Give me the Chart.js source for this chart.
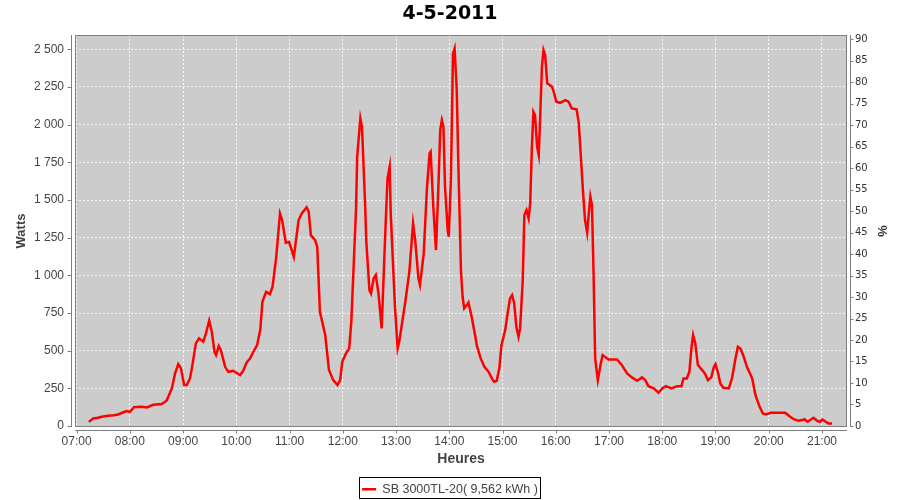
<!DOCTYPE html>
<html>
<head>
<meta charset="utf-8">
<script src="https://cdn.jsdelivr.net/npm/chart.js@4.4.0/dist/chart.umd.min.js"></script>
<style>
  html, body { margin: 0; padding: 0; background: #fff; }
</style>
</head>
<body>
<canvas id="chart" width="900" height="500"></canvas>
<script>
    const hours = [
        7.23, 7.31, 7.40, 7.47, 7.59, 7.70, 7.78, 7.87, 7.94, 8.00,
        8.08, 8.22, 8.32, 8.44, 8.60, 8.69, 8.79, 8.85, 8.91, 8.96,
        9.02, 9.07, 9.13, 9.17, 9.24, 9.30, 9.38, 9.43, 9.49, 9.54,
        9.59, 9.62, 9.67, 9.71, 9.79, 9.85, 9.94, 10.00, 10.07, 10.13,
        10.19, 10.26, 10.32, 10.39, 10.45, 10.49, 10.56, 10.63, 10.68, 10.75,
        10.82, 10.86, 10.93, 10.99, 11.04, 11.08, 11.17, 11.23, 11.27, 11.32,
        11.36, 11.40, 11.48, 11.52, 11.57, 11.67, 11.74, 11.82, 11.90, 11.95,
        11.99, 12.06, 12.12, 12.16, 12.25, 12.27, 12.33, 12.36, 12.42, 12.44,
        12.50, 12.53, 12.58, 12.62, 12.67, 12.73, 12.80, 12.84, 12.88, 12.90,
        12.98, 13.03, 13.06, 13.17, 13.25, 13.32, 13.36, 13.42, 13.45, 13.52,
        13.58, 13.63, 13.65, 13.70, 13.75, 13.80, 13.83, 13.86, 13.89, 13.92,
        13.97, 13.99, 14.03, 14.07, 14.10, 14.14, 14.17, 14.22, 14.25, 14.28,
        14.33, 14.36, 14.42, 14.49, 14.52, 14.59, 14.66, 14.74, 14.80, 14.84,
        14.89, 14.94, 14.98, 15.05, 15.10, 15.14, 15.18, 15.22, 15.26, 15.30,
        15.33, 15.38, 15.41, 15.45, 15.49, 15.52, 15.55, 15.58, 15.61, 15.65,
        15.68, 15.71, 15.74, 15.77, 15.80, 15.84, 15.93, 15.97, 16.01, 16.08,
        16.18, 16.24, 16.30, 16.39, 16.43, 16.46, 16.51, 16.55, 16.59, 16.62,
        16.65, 16.68, 16.71, 16.74, 16.79, 16.84, 16.88, 16.99, 17.15, 17.24,
        17.34, 17.43, 17.53, 17.62, 17.68, 17.74, 17.84, 17.93, 18.00, 18.07,
        18.17, 18.28, 18.36, 18.40, 18.46, 18.51, 18.55, 18.58, 18.62, 18.67,
        18.74, 18.80, 18.86, 18.92, 18.97, 19.00, 19.05, 19.09, 19.15, 19.25,
        19.31, 19.37, 19.42, 19.47, 19.53, 19.59, 19.69, 19.75, 19.83, 19.89,
        19.95, 20.03, 20.16, 20.31, 20.39, 20.47, 20.56, 20.63, 20.67, 20.73,
        20.78, 20.84, 20.91, 20.96, 21.01, 21.07, 21.12, 21.19
    ];
    const watts = [
        28, 51, 55, 62, 68, 72, 77, 90, 100, 95,
        126, 128, 124, 141, 146, 168, 250, 350, 411, 383,
        272, 272, 316, 393, 549, 582, 560, 615, 699, 626,
        493, 471, 531, 504, 393, 360, 367, 354, 338, 367,
        420, 450, 493, 537, 637, 825, 891, 876, 924, 1123,
        1411, 1367, 1216, 1223, 1168, 1123, 1367, 1411, 1429, 1451,
        1422, 1267, 1234, 1190, 758, 604, 372, 305, 272, 305,
        427, 482, 516, 692, 1455, 1787, 2042, 1986, 1466, 1234,
        902, 880, 980, 1002, 880, 648, 1301, 1644, 1721, 1411,
        792, 516, 560, 814, 1024, 1345, 1234, 980, 936, 1146,
        1577, 1810, 1820, 1455, 1168, 1632, 1964, 2030, 1986, 1588,
        1301, 1256, 1632, 2473, 2506, 2230, 1743, 1024, 858, 781,
        803, 820, 725, 593, 530, 449, 394, 360, 316, 294,
        300, 383, 537, 637, 758, 847, 869, 814, 659, 593,
        648, 969, 1400, 1433, 1378, 1478, 1831, 2086, 2064, 1853,
        1798, 2075, 2384, 2495, 2462, 2274, 2252, 2208, 2152, 2145,
        2163, 2152, 2108, 2102, 2019, 1853, 1566, 1367, 1283, 1411,
        1522, 1466, 1013, 449, 305, 405, 471, 442, 442, 405,
        350, 323, 301, 323, 305, 265, 250, 221, 250, 265,
        250, 265, 265, 316, 316, 360, 526, 604, 549, 405,
        376, 350, 305, 323, 393, 411, 350, 283, 254, 250,
        316, 438, 526, 515, 460, 393, 316, 206, 128, 84,
        77, 88, 88, 88, 66, 46, 35, 40, 46, 29,
        40, 55, 35, 29, 44, 29, 18, 18
    ];

    const hourTicks = [7, 8, 9, 10, 11, 12, 13, 14, 15, 16, 17, 18, 19, 20, 21];
    const wattTicks = [0, 250, 500, 750, 1000, 1250, 1500, 1750, 2000, 2250, 2500];
    const pctTicks = [0, 5, 10, 15, 20, 25, 30, 35, 40, 45, 50, 55, 60, 65, 70, 75, 80, 85, 90];

    const chartTitle = '4-5-2011';
    const seriesLabel = 'SB 3000TL-20( 9,562 kWh )';

    function fmtHour(h) {
        return String(h).padStart(2, '0') + ':00';
    }

    // french style: "2 500"
    function fmtWatt(v) {
        if (v >= 1000)
            return Math.floor(v / 1000) + ' ' + String(v % 1000).padStart(3, '0');
        return String(v);
    }

    const axisGrey = '#808080';

    // plot background, outline, offset axis lines + tick marks, legend frame
    const jfreeLook = {
        id: 'jfreeLook',
        beforeDraw(chart) {
            const { ctx, chartArea: a } = chart;
            ctx.save();
            ctx.fillStyle = '#ffffff';
            ctx.fillRect(0, 0, chart.width, chart.height);
            ctx.fillStyle = '#cccccc';
            ctx.fillRect(a.left, a.top, a.right - a.left, a.bottom - a.top);
            ctx.restore();
        },
        afterDraw(chart) {
            const { ctx, chartArea: a, scales } = chart;
            ctx.save();
            ctx.strokeStyle = axisGrey;
            ctx.lineWidth = 1;

            // plot outline
            ctx.strokeRect(a.left + 0.5, a.top + 0.5, a.right - a.left - 1, a.bottom - a.top - 1);

            ctx.beginPath();
            // left axis
            const lx = a.left - 3.5;
            ctx.moveTo(lx, a.top);
            ctx.lineTo(lx, a.bottom);
            wattTicks.forEach(v => {
                const y = Math.round(scales.y.getPixelForValue(v)) + 0.5;
                ctx.moveTo(lx - 4, y);
                ctx.lineTo(lx, y);
            });
            // right axis
            const rx = a.right + 3.5;
            ctx.moveTo(rx, a.top);
            ctx.lineTo(rx, a.bottom);
            pctTicks.forEach(v => {
                const y = Math.round(scales.y1.getPixelForValue(v)) + 0.5;
                ctx.moveTo(rx, y);
                ctx.lineTo(rx + 3, y);
            });
            // bottom axis
            const by = a.bottom + 3.5;
            ctx.moveTo(a.left, by);
            ctx.lineTo(a.right, by);
            hourTicks.forEach(v => {
                const x = Math.round(scales.x.getPixelForValue(v)) + 0.5;
                ctx.moveTo(x, by);
                ctx.lineTo(x, by + 3);
            });
            ctx.stroke();

            // legend frame
            const hb = chart.legend.legendHitBoxes[0];
            if (hb) {
                ctx.strokeStyle = '#000000';
                ctx.strokeRect(Math.round(hb.left - 3) + 0.5, Math.round(hb.top - 6) + 0.5,
                    Math.round(hb.width + 5), 21);
            }
            ctx.restore();
        }
    };

    const gridCol = 'rgba(255,255,255,0.85)';

    new Chart(document.getElementById('chart'), {
        type: 'line',
        data: {
            datasets: [{
                label: seriesLabel,
                data: hours.map((h, i) => ({ x: h, y: watts[i] })),
                borderColor: '#ff0000',
                backgroundColor: '#ff0000',
                borderWidth: 2.5,
                pointRadius: 0,
                tension: 0,
                fill: false,
                yAxisID: 'y'
            }]
        },
        options: {
            responsive: false,
            animation: false,
            events: [],
            layout: { padding: { top: 0, left: 0, right: 0, bottom: -5.5 } },
            font: { family: 'Liberation Sans' },
            scales: {
                x: {
                    type: 'linear',
                    min: 6.97,
                    max: 21.47,
                    afterBuildTicks: s => { s.ticks = hourTicks.map(v => ({ value: v })); },
                    afterFit: s => { s.height = 46; },
                    ticks: {
                        callback: v => fmtHour(v),
                        font: { family: 'Liberation Sans', size: 12 },
                        color: '#444444',
                        padding: 7,
                        maxRotation: 0,
                        autoSkip: false
                    },
                    grid: { color: gridCol, lineWidth: 1, drawTicks: false },
                    border: { display: false, dash: [2, 2] },
                    title: {
                        display: true,
                        text: 'Heures',
                        color: '#444444',
                        font: { family: 'Liberation Sans', size: 14, weight: 'bold' },
                        padding: { top: 0, bottom: 5 }
                    }
                },
                y: {
                    position: 'left',
                    min: -6,
                    max: 2595,
                    afterBuildTicks: s => { s.ticks = wattTicks.map(v => ({ value: v })); },
                    afterFit: s => { s.width = 75; },
                    ticks: {
                        callback: v => fmtWatt(v),
                        font: { family: 'Liberation Sans', size: 12 },
                        color: '#444444',
                        padding: 11
                    },
                    grid: { color: gridCol, lineWidth: 1, drawTicks: false },
                    border: { display: false, dash: [2, 2] },
                    title: {
                        display: true,
                        text: 'Watts',
                        color: '#444444',
                        font: { family: 'Liberation Sans', size: 13, weight: 'bold' },
                        padding: { top: 13.5, bottom: 0 }
                    }
                },
                y1: {
                    position: 'right',
                    min: -0.25,
                    max: 91,
                    afterBuildTicks: s => { s.ticks = pctTicks.map(v => ({ value: v })); },
                    afterFit: s => { s.width = 53; },
                    ticks: {
                        font: { family: 'DejaVu Sans', size: 10 },
                        color: '#333333',
                        padding: 8
                    },
                    grid: { display: false, drawTicks: false },
                    border: { display: false },
                    title: {
                        display: true,
                        text: '%',
                        color: '#333333',
                        font: { family: 'Liberation Sans', size: 13, weight: 'bold' },
                        padding: { top: 11, bottom: 0 }
                    }
                }
            },
            plugins: {
                title: {
                    display: true,
                    text: chartTitle,
                    color: '#000000',
                    font: { family: 'DejaVu Sans', size: 19, weight: 'bold' },
                    padding: { top: 3, bottom: 9.2 }
                },
                legend: {
                    display: true,
                    position: 'bottom',
                    labels: {
                        usePointStyle: true,
                        pointStyle: 'line',
                        pointStyleWidth: 14,
                        padding: 10,
                        color: '#444444',
                        font: { family: 'Liberation Sans', size: 12.5 }
                    }
                },
                tooltip: { enabled: false }
            }
        },
        plugins: [jfreeLook]
    });
</script>
</body>
</html>
